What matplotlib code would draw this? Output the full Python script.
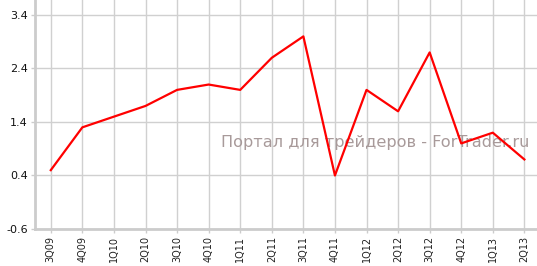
import matplotlib
matplotlib.use('Agg')
import matplotlib.pyplot as plt

# квартальные данные
quarters = ['3Q09', '4Q09', '1Q10', '2Q10', '3Q10', '4Q10', '1Q11', '2Q11',
            '3Q11', '4Q11', '1Q12', '2Q12', '3Q12', '4Q12', '1Q13', '2Q13']
values = [0.5, 1.3, 1.5, 1.7, 2.0, 2.1, 2.0, 2.6,
          3.0, 0.4, 2.0, 1.6, 2.7, 1.0, 1.2, 0.7]
y_ticks = [-0.6, 0.4, 1.4, 2.4, 3.4]

fig = plt.figure(figsize=(5.37, 2.66), dpi=100)
ax = fig.add_axes([35 / 537, 37 / 266, 1 - 35 / 537, 1 - 37 / 266])

x = list(range(len(quarters)))
ax.plot(x, values, color='#ff0000', lw=1.6, zorder=3)

ax.set_xlim(-0.5, 15.4)
ax.set_ylim(-0.6, 3.68)
ax.set_xticks(x)
ax.set_xticklabels(quarters, rotation=90, fontsize=7, color='#222222')
ax.set_yticks(y_ticks)
ax.set_yticklabels(['%.1f' % v for v in y_ticks], fontsize=8, color='#111111')

ax.grid(True, color='#d0d0d0', lw=1)
ax.set_axisbelow(True)
for s in ['top', 'right']:
    ax.spines[s].set_visible(False)
for s in ['left', 'bottom']:
    ax.spines[s].set_color('#cccccc')
    ax.spines[s].set_linewidth(2)
ax.tick_params(axis='both', color='#cccccc', length=3, width=1, pad=2)

# водяной знак (координаты в пикселях снизу)
ax.text(221, 123, 'Портал для трейдеров - ForTrader.ru', transform=None,
        fontsize=11.6, color='#a89a9a', va='center', ha='left', zorder=2)

fig.savefig('out.png', dpi=100)
